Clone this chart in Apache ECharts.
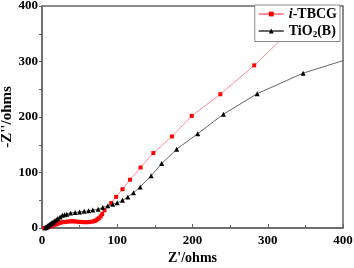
<!DOCTYPE html>
<html>
<head>
<meta charset="utf-8">
<script src="https://cdn.jsdelivr.net/npm/echarts@6/dist/echarts.min.js"></script>
<style>
html,body{margin:0;padding:0;background:#fff;}
#c{width:354px;height:268px;}
</style>
</head>
<body>
<div id="c"></div>
<script>
// i-TBCG Nyquist data (Z', -Z'')
const tbcgZre = [3,5,7,9,11,13,15,17,19,21,23,25,28,31,34,37,40,43,46,49,52,55,58,61,64,67,70,72,74,76,78,80,83,92,98.5,107,117,131,148,172.7,199,237,282,335];
const tbcgZim = [0,0.5,1,2,3,4,5,6,7,8,9,10,10.5,11,11.5,12,12,12,11.5,11,11,10.5,10.5,10.5,11,11.5,12.5,14,16,18,21,25,32,45,56,70,87,109,135,165,202,241,293,362];
// TiO2(B) Nyquist data
const tioZre = [4,5,6,7,8,9,10,11,12,13,14,15,17,19,21,24,27,30,33,38,44,50,56,62,67.5,74.6,80.8,87.5,94,100,107,114,121.6,130.5,145,159,179,207,241,286,347,420];
const tioZim = [0,1,2,3,4,5,6,7,8,9,10,11,13,15,17,20,23,24,25,27,28,29,30,31,32.4,33.7,37,40,42.6,45.6,50,56,63.7,74,94,116,142,170,205,242,279,310];
const xTicks = [0,100,200,300,400];
const yTicks = [0,100,200,300,400];
const seriesNames = ['i-TBCG','TiO2(B)'];

const pair = (a,b) => a.map((v,i)=>[v,b[i]]);
const font = 'Liberation Serif';
const chart = echarts.init(document.getElementById('c'));
chart.setOption({
  animation:false,
  backgroundColor:'#fff',
  grid:{left:42,right:11,top:6,bottom:40,containLabel:false,outerBoundsMode:'none',
        show:true,borderColor:'#666',borderWidth:1.5},
  legend:{
    data:seriesNames,
    orient:'vertical',
    right:14, top:5,
    padding:[2,3,2,3],
    itemGap:3,
    itemWidth:25, itemHeight:6,
    backgroundColor:'#fff',
    borderColor:'#888', borderWidth:1,
    textStyle:{fontFamily:font,fontWeight:'bold',fontSize:14,color:'#000',
      rich:{
        it:{fontFamily:font,fontWeight:'bold',fontStyle:'italic',fontSize:14,color:'#000'},
        n:{fontFamily:font,fontWeight:'bold',fontSize:14,color:'#000'},
        sub:{fontFamily:font,fontWeight:'bold',fontSize:9,color:'#000',padding:[8,0,0,0]}
      }},
    formatter:function(name){
      if(name==='i-TBCG') return '{it|i}{n|-TBCG}';
      return '{n|TiO}{sub|2}{n|(B)}';
    }
  },
  xAxis:{
    type:'value',min:0,max:400,interval:100,
    name:"Z'/ohms",nameLocation:'middle',nameGap:23,nameMoveOverlap:false,
    nameTextStyle:{fontFamily:font,fontWeight:'bold',fontSize:14,color:'#000'},
    axisLine:{show:true,lineStyle:{color:'#666',width:1.5}},
    axisTick:{show:true,inside:true,length:4,lineStyle:{color:'#666'}},
    minorTick:{show:true,splitNumber:2,length:3,lineStyle:{color:'#666'}},
    splitLine:{show:false},
    axisLabel:{fontFamily:font,fontWeight:'bold',fontSize:13,color:'#000',margin:6,
      customValues:xTicks}
  },
  yAxis:{
    type:'value',min:0,max:400,interval:100,
    name:"-Z''/ohms",nameLocation:'middle',nameGap:27,nameMoveOverlap:false,
    nameTextStyle:{fontFamily:font,fontWeight:'bold',fontSize:15,color:'#000'},
    axisLine:{show:true,lineStyle:{color:'#666',width:1.5}},
    axisTick:{show:true,length:3,lineStyle:{color:'#666'}},
    minorTick:{show:true,splitNumber:2,length:3,lineStyle:{color:'#666'}},
    splitLine:{show:false},
    axisLabel:{fontFamily:font,fontWeight:'bold',fontSize:13,color:'#000',margin:4,
      customValues:yTicks}
  },
  series:[
    {name:'i-TBCG',type:'line',data:pair(tbcgZre,tbcgZim),clip:true,
     symbol:'rect',symbolSize:4,
     itemStyle:{color:'#ff0000'},lineStyle:{color:'#ff8c9a',width:1}},
    {name:'TiO2(B)',type:'line',data:pair(tioZre,tioZim),clip:true,
     symbol:'triangle',symbolSize:5,
     itemStyle:{color:'#000'},lineStyle:{color:'#666',width:1}}
  ]
});
</script>
</body>
</html>
